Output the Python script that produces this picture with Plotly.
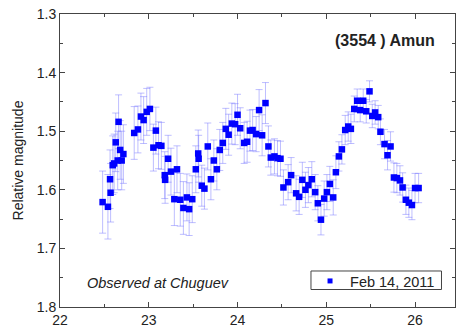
import plotly.graph_objects as go

# Time (hours, UT) and relative magnitude with error estimates
time_h = [22.48, 22.54, 22.564, 22.57, 22.594, 22.61, 22.628, 22.65, 22.66, 22.678,
          22.695, 22.714, 22.836, 22.878, 22.912, 22.942, 22.977, 23.013, 23.052, 23.08,
          23.11, 23.142, 23.18, 23.184, 23.218, 23.25, 23.288, 23.318, 23.355, 23.39,
          23.43, 23.455, 23.49, 23.53, 23.557, 23.562, 23.597, 23.627, 23.665, 23.70,
          23.733, 23.767, 23.80, 23.834, 23.868, 23.90, 23.936, 23.973, 24.00, 24.03,
          24.075, 24.108, 24.14, 24.17, 24.21, 24.243, 24.277, 24.315, 24.348, 24.375,
          24.416, 24.45, 24.484, 24.517, 24.57, 24.604, 24.66, 24.694, 24.73, 24.765,
          24.798, 24.837, 24.875, 24.905, 24.94, 24.976, 25.007, 25.04, 25.078, 25.108,
          25.142, 25.176, 25.213, 25.247, 25.277, 25.315, 25.348, 25.382, 25.416, 25.45,
          25.487, 25.518, 25.55, 25.585, 25.61, 25.656, 25.69, 25.724, 25.762, 25.795,
          25.83, 25.86, 25.897, 25.93, 25.965, 26.00, 26.04]
rel_mag = [1.621, 1.629, 1.582, 1.605, 1.558, 1.555, 1.519, 1.550, 1.484, 1.532,
           1.550, 1.539, 1.503, 1.497, 1.475, 1.481, 1.467, 1.462, 1.528, 1.499,
           1.524, 1.525, 1.575, 1.583, 1.547, 1.569, 1.616, 1.565, 1.617, 1.631,
           1.613, 1.633, 1.616, 1.565, 1.538, 1.547, 1.593, 1.598, 1.526, 1.582,
           1.550, 1.565, 1.532, 1.520, 1.496, 1.506, 1.487, 1.488, 1.472, 1.495,
           1.520, 1.518, 1.499, 1.498, 1.505, 1.464, 1.507, 1.452, 1.526, 1.545,
           1.543, 1.546, 1.547, 1.596, 1.587, 1.575, 1.606, 1.612, 1.583, 1.600,
           1.592, 1.582, 1.604, 1.623, 1.651, 1.615, 1.604, 1.590, 1.613, 1.570,
           1.543, 1.531, 1.498, 1.492, 1.496, 1.462, 1.448, 1.464, 1.448, 1.466,
           1.432, 1.474, 1.468, 1.476, 1.501, 1.522, 1.541, 1.526, 1.579, 1.580,
           1.584, 1.596, 1.617, 1.622, 1.626, 1.597, 1.597]
mag_err = [0.053, 0.055, 0.05, 0.05, 0.05, 0.05, 0.05, 0.05, 0.046, 0.05,
           0.05, 0.05, 0.045, 0.04, 0.04, 0.04, 0.04, 0.037, 0.04, 0.04,
           0.04, 0.04, 0.04, 0.04, 0.04, 0.04, 0.045, 0.04, 0.045, 0.045,
           0.04, 0.045, 0.04, 0.04, 0.04, 0.04, 0.035, 0.035, 0.04, 0.035,
           0.035, 0.035, 0.035, 0.035, 0.035, 0.035, 0.035, 0.035, 0.035, 0.035,
           0.035, 0.035, 0.035, 0.035, 0.03, 0.035, 0.035, 0.035, 0.035, 0.03,
           0.03, 0.03, 0.03, 0.03, 0.03, 0.03, 0.03, 0.03, 0.03, 0.03,
           0.03, 0.03, 0.03, 0.03, 0.026, 0.03, 0.03, 0.03, 0.03, 0.028,
           0.025, 0.025, 0.025, 0.025, 0.025, 0.022, 0.02, 0.02, 0.02, 0.02,
           0.018, 0.02, 0.02, 0.02, 0.022, 0.025, 0.025, 0.025, 0.025, 0.025,
           0.025, 0.025, 0.025, 0.025, 0.025, 0.025, 0.025]

x_ticks = [22, 23, 24, 25, 26]
y_ticks = [1.3, 1.4, 1.5, 1.6, 1.7, 1.8]
series_name = "Feb 14, 2011"
title_text = "(3554 ) Amun"
site_text = "Observed at Chuguev"

FONT = "Arial, 'Liberation Sans', sans-serif"
BLUE = "#0000ff"

fig = go.Figure()
fig.add_trace(go.Scatter(
    x=time_h, y=rel_mag, mode="markers", name=series_name, showlegend=False,
    marker=dict(symbol="square", size=6.5, color=BLUE),
    error_y=dict(type="data", array=mag_err, visible=True,
                 color="rgba(110,110,255,0.45)", thickness=1, width=3.5),
))
# legend entry (smaller marker as in the original legend)
fig.add_trace(go.Scatter(
    x=[None], y=[None], mode="markers", name=series_name, showlegend=True,
    marker=dict(symbol="square", size=5, color=BLUE),
))

axis_common = dict(
    showline=True, linecolor="#444", linewidth=1, mirror="allticks",
    ticks="inside", ticklen=5, tickcolor="#444", tickwidth=1,
    showgrid=False, zeroline=False,
    tickfont=dict(family=FONT, size=14, color="#222"),
)
fig.update_xaxes(range=[22, 26.45], tickvals=x_ticks,
                 minor=dict(dtick=0.5, ticks="inside", ticklen=3, tickcolor="#444", showgrid=False),
                 **axis_common)
fig.update_yaxes(range=[1.8, 1.3], tickvals=y_ticks, tickformat=".1f",
                 minor=dict(dtick=0.05, ticks="inside", ticklen=3, tickcolor="#444", showgrid=False),
                 title=dict(text="Relative magnitude", font=dict(family=FONT, size=14, color="#222"), standoff=9),
                 **axis_common)

fig.add_annotation(x=0.823, y=0.908, xref="paper", yref="paper", xanchor="center", yanchor="middle",
                   text="<b>" + title_text + "</b>",
                   showarrow=False, font=dict(family=FONT, size=16, color="#222"))
fig.add_annotation(x=0.063, y=0.0836, xref="paper", yref="paper", xanchor="left", yanchor="middle",
                   text="<i>" + site_text + "</i>",
                   showarrow=False, font=dict(family=FONT, size=14.5, color="#222"))

# legend frame
fig.add_shape(type="rect", xref="paper", yref="paper", x0=0.6354, x1=0.9658, y0=0.0597, y1=0.1229,
              line=dict(color="#444", width=1), fillcolor="white", layer="above")

fig.update_layout(
    width=456, height=329,
    margin=dict(l=60, r=1, t=14, b=22),
    paper_bgcolor="white", plot_bgcolor="white",
    showlegend=True,
    legend=dict(x=0.633, y=0.0887, xanchor="left", yanchor="middle",
                borderwidth=0, bgcolor="rgba(0,0,0,0)",
                font=dict(family=FONT, size=14.5, color="#222"),
                itemwidth=30, tracegroupgap=0),
)

fig.write_html("out.html")
